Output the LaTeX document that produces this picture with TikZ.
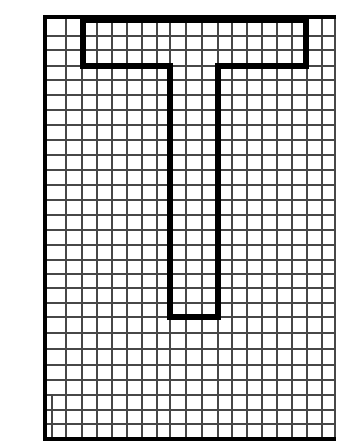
\documentclass[tikz,border=0pt]{standalone}
\begin{document}
\begin{tikzpicture}[x=0.75pt,y=-0.75pt,
  gridline/.style={line width=1.5pt, draw=black!72},
  frameline/.style={line width=3pt, draw=black},
  tline/.style={line width=3.8pt, draw=black, line join=miter}]
\useasboundingbox (0,0) rectangle (336,441);
\fill[white] (0,0) rectangle (336,441);
% vertical grid lines
\foreach \x in {66,82,97,112,127,142,157,170,186,202,218,232,247,262,277,292,307,322,335}
  \draw[gridline] (\x,18) -- (\x,439);
% horizontal grid lines
\foreach \y in {36,50,66,80,95,110,125,140,155,170,185,200,215,230,245,260,274,288,303,317,333,349,365,380,395,410,424}
  \draw[gridline] (45,\y) -- (336,\y);
% short stray line at bottom left
\draw[gridline, line width=1pt] (52,395) -- (52,439);
% frame
\draw[frameline] (336,17.5) -- (45,17.5) -- (45,439) -- (336,439);
% T outline
\draw[tline] (83,20) -- (306,20) -- (306,66) -- (218,66) -- (218,317) -- (170,317) -- (170,66) -- (83,66) -- cycle;
\end{tikzpicture}
\end{document}
